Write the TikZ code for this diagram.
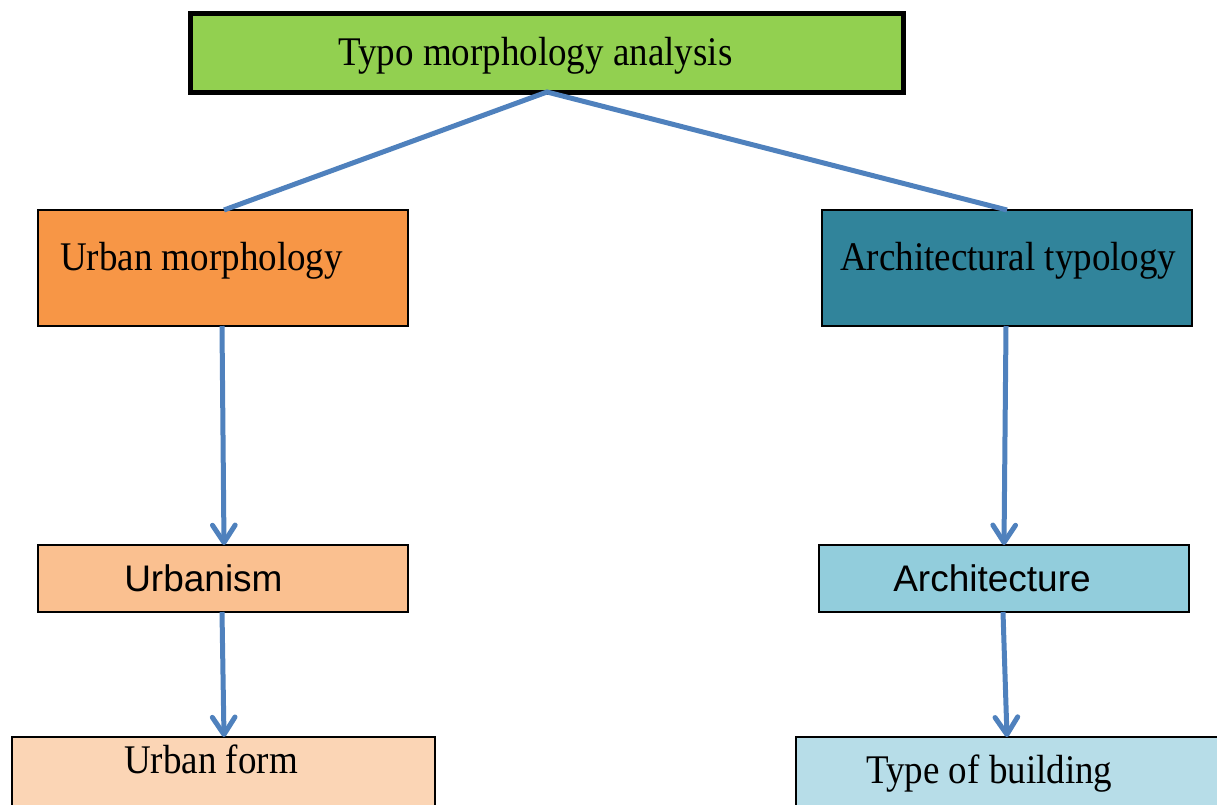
\documentclass[tikz,border=0pt]{standalone}
\usepackage{fontspec}
\setmainfont{Liberation Serif}
\setsansfont{Liberation Sans}
\usetikzlibrary{arrows.meta,fit}
\definecolor{cgreen}{HTML}{92D050}
\definecolor{corange}{HTML}{F79646}
\definecolor{cteal}{HTML}{31849B}
\definecolor{clorange}{HTML}{FAC090}
\definecolor{clblue}{HTML}{92CDDC}
\definecolor{cpeach}{HTML}{FBD5B5}
\definecolor{cpale}{HTML}{B7DDE8}
\definecolor{cline}{HTML}{4F81BD}
\tikzset{
  box/.style={draw=black, line width=1.5pt, inner sep=0pt, outer sep=0pt},
  topbox/.style={box, line width=3.75pt},
  conn/.style={draw=cline, line width=3.75pt},
  arr/.style={conn, -{Straight Barb[length=13pt,width=17pt,line width=3.75pt,round]}},
  serif/.style={font=\fontsize{27.75pt}{33pt}\selectfont\rmfamily, anchor=base west, inner sep=0pt, yscale=1.1, transform shape},
  sans/.style={font=\fontsize{27.75pt}{33pt}\selectfont\sffamily, anchor=base west, inner sep=0pt}
}
\begin{document}
\begin{tikzpicture}[x=0.75pt,y=-0.75pt]
\useasboundingbox (0,0) rectangle (1217,804);
% boxes
\node[topbox, fill=cgreen, fit={(190,13) (903,92)}] (top) {};
\node[box, fill=corange, fit={(38,210) (408,326)}] (um) {};
\node[box, fill=cteal, fit={(822,210) (1192,326)}] (at) {};
\node[box, fill=clorange, fit={(38,545) (408,612)}] (urb) {};
\node[box, fill=clblue, fit={(819,545) (1189,612)}] (arc) {};
\node[box, fill=cpeach, fit={(12,737) (435,812)}] (uf) {};
\node[box, fill=cpale, fit={(796,737) (1222,812)}] (tb) {};
% texts
\node[serif] (ttop) at (338,65) {Typo morphology analysis};
\node[serif] (tum) at (60,270) {Urban morphology};
\node[serif] (tat) at (840,270) {Architectural typology};
\node[sans] (turb) at (124,591) {Urbanism};
\node[sans] (tarc) at (893,591) {Architecture};
\node[serif] (tuf) at (124,773) {Urban form};
\node[serif] (ttb) at (866,783) {Type of building};
% connectors
\coordinate (apex) at (547,92);
\coordinate (umtop) at (224,210);
\coordinate (attop) at (1007,210);
\draw[conn, line join=miter] (umtop) -- (apex) -- (attop);
\draw[arr] (222,326) -- (urb.north -| 224,0);
\draw[arr] (1006,326) -- (arc.north -| 1004,0);
\draw[arr] (222,612) -- (uf.north -| 224,0);
\draw[arr] (1003,612) -- (tb.north -| 1007,0);
\end{tikzpicture}
\end{document}
